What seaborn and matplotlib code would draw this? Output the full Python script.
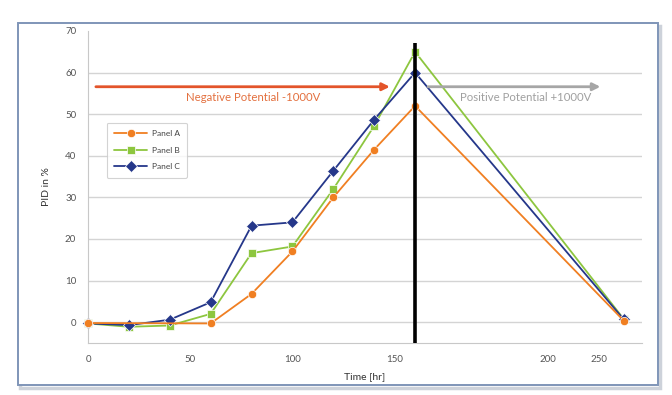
import numpy as np
import pandas as pd
import matplotlib
matplotlib.use("Agg")
import matplotlib.pyplot as plt
import seaborn as sns
from matplotlib.patches import Rectangle

# data
hours_a = [0, 60, 80, 100, 120, 140, 160, 262]
pid_a = [-0.2, -0.3, 6.8, 17.0, 30.0, 41.5, 52.0, 0.4]
hours_bc = [0, 20, 40, 60, 80, 100, 120, 140, 160, 262]
pid_b = [-0.3, -1.1, -0.8, 2.0, 16.6, 18.2, 32.0, 47.2, 65.0, 0.8]
pid_c = [-0.3, -0.7, 0.6, 4.8, 23.2, 24.0, 36.4, 48.7, 60.0, 0.7]

panels = ["Panel A", "Panel B", "Panel C"]
colors = ["#F07F22", "#8DC63F", "#25378A"]
markers = ["o", "s", "D"]

x_ticks = [0, 25, 50, 75, 100, 125, 150, 175, 200, 225, 250]
x_labels = ["0", "", "50", "", "100", "", "150", "", "", "200", "250"]
y_ticks = [0, 10, 20, 30, 40, 50, 60, 70]
switch_hr = 160

df = pd.concat([
    pd.DataFrame({"Time": hours_a, "PID": pid_a, "Panel": "Panel A"}),
    pd.DataFrame({"Time": hours_bc, "PID": pid_b, "Panel": "Panel B"}),
    pd.DataFrame({"Time": hours_bc, "PID": pid_c, "Panel": "Panel C"}),
])

sns.set_style("white")
plt.rcParams["font.family"] = ["Lato", "DejaVu Sans"]

fig = plt.figure(figsize=(6.72, 3.95), dpi=100)

# outer frame with soft shadow, kept underneath the axes
fig.patches.append(Rectangle((20 / 672, 1 - 388 / 395), 640 / 672, 362 / 395,
                             transform=fig.transFigure, fc="none", ec="#cdd2da",
                             lw=2.5, zorder=-2))
fig.patches.append(Rectangle((18 / 672, 1 - 385 / 395), 640 / 672, 362 / 395,
                             transform=fig.transFigure, fc="white", ec="#7f95b8",
                             lw=1.4, zorder=-1))

ax = fig.add_axes([88 / 672, 52 / 395, 554 / 672, 312 / 395])
ax.patch.set_alpha(0)

sns.lineplot(data=df, x="Time", y="PID", hue="Panel", style="Panel",
             hue_order=panels, style_order=panels,
             palette=dict(zip(panels, colors)), markers=dict(zip(panels, markers)),
             dashes=False, lw=1.3, markersize=6, markeredgewidth=0.5,
             sort=False, ax=ax, legend=True)
for ln in ax.lines:
    ln.set_clip_on(False)
ax.lines[0].set_zorder(4)

ax.set_xlim(0, 271)
ax.set_ylim(-5, 70)
ax.set_xticks(x_ticks)
ax.set_xticklabels(x_labels)
ax.set_yticks(y_ticks)
ax.set_yticks(np.arange(-5, 70, 5), minor=True)
ax.tick_params(axis="both", which="both", colors="#b8b8b8", labelcolor="#555555",
               labelsize=7, length=5, width=0.8)
ax.tick_params(axis="y", which="minor", length=3)

ax.yaxis.grid(True, color="#d4d4d4", lw=1)
ax.yaxis.get_gridlines()[-1].set_visible(False)
ax.set_axisbelow(True)
for side in ["top", "right"]:
    ax.spines[side].set_visible(False)
for side in ["left", "bottom"]:
    ax.spines[side].set_color("#c8c8c8")
    ax.spines[side].set_linewidth(0.8)

ax.set_xlabel("Time [hr]", fontsize=7.5, color="#333333", labelpad=6)
ax.set_ylabel("PID in %", fontsize=7.5, color="#333333", labelpad=10)

# switch of polarity
ax.vlines(switch_hr, -5, 67, color="black", lw=2.6, zorder=5)

ax.annotate("", xy=(149, 56.6), xytext=(2.5, 56.6),
            arrowprops=dict(arrowstyle="-|>", color="#E3542A", lw=2, mutation_scale=11))
ax.text(81, 54.1, "Negative Potential -1000V", color="#E3703F", fontsize=8.2,
        ha="center", va="center")
ax.annotate("", xy=(252, 56.6), xytext=(165, 56.6),
            arrowprops=dict(arrowstyle="-|>", color="#a6a6a6", lw=2, mutation_scale=11))
ax.text(214, 54.1, "Positive Potential +1000V", color="#a0a0a0", fontsize=8.2,
        ha="center", va="center")

leg = ax.legend(loc="upper left", bbox_to_anchor=(0.026, 0.72), fontsize=6,
                frameon=True, fancybox=True, edgecolor="#c8c8c8", handlelength=4,
                labelspacing=1.15, borderpad=0.9, handletextpad=0.5)
leg.get_frame().set_linewidth(0.8)
for t in leg.get_texts():
    t.set_color("#444444")

fig.savefig("out.png", dpi=100)
